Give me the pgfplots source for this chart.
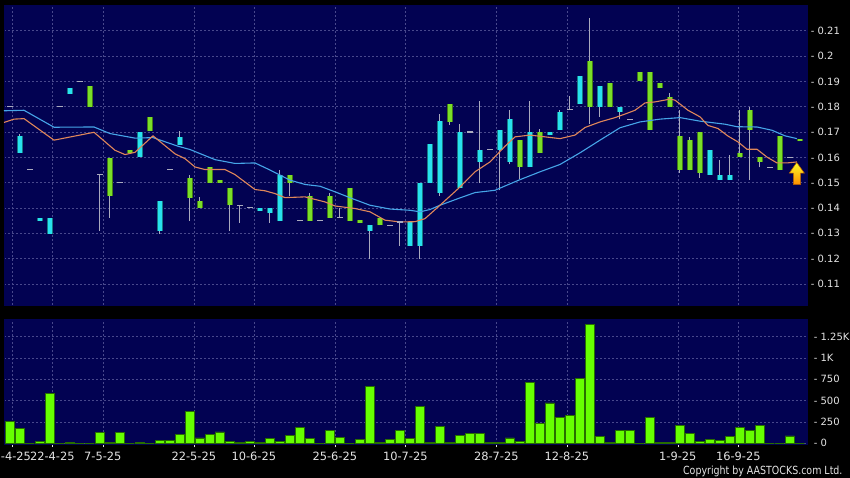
\documentclass[border=0pt]{standalone}
\usepackage{pgfplots}
\pgfplotsset{compat=1.18}
\usepackage{pgfplotstable}
\usepackage{fontspec}
\setmainfont{DejaVu Sans}
\newfontfamily\cond[FakeStretch=0.845]{DejaVu Sans}

\definecolor{panel}{RGB}{2,2,82}
\definecolor{gridc}{RGB}{72,72,140}
\definecolor{upgreen}{RGB}{122,222,40}
\definecolor{dncyan}{RGB}{40,225,240}
\definecolor{wick}{RGB}{170,170,190}
\definecolor{volgreen}{RGB}{102,255,0}
\definecolor{voledge}{RGB}{40,110,0}
\definecolor{maorange}{RGB}{224,135,90}
\definecolor{mablue}{RGB}{70,165,232}
\definecolor{labelc}{RGB}{228,228,228}

% candles: day, wick low, body low, body high, wick high
\pgfplotstableread{
x lo bl bh hi
8 0.180 0.180 0.188 0.188
10 0.1361 0.1449 0.1599 0.1599
12 0.1618 0.1618 0.1630 0.1630
14 0.1703 0.1703 0.176 0.176
18 0.1348 0.144 0.152 0.1532
19 0.1402 0.1402 0.1429 0.1443
20 0.150 0.150 0.156 0.156
21 0.150 0.150 0.1512 0.1512
22 0.1309 0.141 0.1481 0.1481
28 0.1448 0.150 0.1532 0.1532
30 0.1349 0.1349 0.1449 0.1461
32 0.1362 0.1362 0.1449 0.1461
34 0.1349 0.1349 0.1481 0.1481
35 0.1342 0.1342 0.1352 0.1352
37 0.1331 0.1331 0.1362 0.1362
44 0.1728 0.174 0.181 0.181
51 0.1514 0.1561 0.167 0.167
53 0.1619 0.1619 0.170 0.1713
58 0.1731 0.180 0.1979 0.215
60 0.180 0.180 0.1892 0.1892
63 0.190 0.190 0.1939 0.1939
64 0.171 0.171 0.1939 0.1939
65 0.1872 0.1872 0.1892 0.1892
66 0.180 0.180 0.184 0.1854
67 0.154 0.1552 0.1684 0.1786
68 0.1552 0.1552 0.167 0.1682
69 0.152 0.154 0.170 0.170
73 0.160 0.160 0.1619 0.1789
74 0.151 0.171 0.1789 0.180
75 0.156 0.1581 0.160 0.160
77 0.1552 0.1552 0.1684 0.1684
79 0.1663 0.1663 0.1672 0.1672
}\upcandles

\pgfplotstableread{
x lo bl bh hi
1 0.1619 0.1619 0.1684 0.1692
3 0.1350 0.1350 0.1361 0.1361
4 0.1299 0.1299 0.1362 0.1362
6 0.1852 0.1852 0.1872 0.1872
13 0.160 0.160 0.170 0.170
15 0.1299 0.1309 0.1429 0.1429
17 0.1649 0.1649 0.1682 0.1703
25 0.139 0.139 0.140 0.140
26 0.1342 0.138 0.140 0.140
27 0.1348 0.1348 0.1532 0.1552
36 0.120 0.1309 0.1331 0.1331
40 0.125 0.125 0.1346 0.1346
41 0.120 0.125 0.150 0.150
42 0.150 0.150 0.1651 0.1651
43 0.1448 0.146 0.1742 0.1771
45 0.1481 0.1481 0.170 0.1731
47 0.150 0.1581 0.1631 0.1822
49 0.147 0.1631 0.171 0.171
50 0.1572 0.1581 0.175 0.1789
52 0.1561 0.1561 0.170 0.1822
54 0.169 0.169 0.1702 0.1702
55 0.171 0.171 0.1781 0.1789
57 0.1809 0.1809 0.192 0.192
59 0.176 0.180 0.188 0.188
61 0.175 0.1781 0.180 0.180
70 0.1532 0.1532 0.1631 0.1631
71 0.1512 0.1512 0.1532 0.159
72 0.1512 0.1512 0.1532 0.161
}\downcandles

% open = close
\pgfplotstableread{
x lo c hi
0 0.180 0.180 0.180
2 0.1552 0.1552 0.1552
5 0.180 0.180 0.180
7 0.190 0.190 0.190
9 0.131 0.1532 0.1532
11 0.150 0.150 0.150
16 0.1552 0.1552 0.1552
23 0.1341 0.141 0.141
24 0.1402 0.1402 0.1402
29 0.135 0.135 0.135
31 0.135 0.135 0.135
33 0.1362 0.1362 0.140
38 0.1331 0.1331 0.1331
39 0.125 0.1345 0.1345
46 0.170 0.170 0.170
48 0.1631 0.1631 0.1631
56 0.1789 0.1789 0.1842
62 0.175 0.175 0.175
76 0.156 0.156 0.156
78 0.160 0.160 0.160
}\flatcandles

\pgfplotstableread{
x v
0 260
1 177
2 0
3 20
4 587
5 0
6 10
7 0
8 0
9 122
10 10
11 130
12 0
13 10
14 0
15 30
16 30
17 100
18 372
19 63
20 100
21 133
22 18
23 12
24 22
25 12
26 55
27 20
28 95
29 189
30 55
31 0
32 150
33 67
34 0
35 43
36 666
37 10
38 40
39 150
40 60
41 429
42 10
43 200
44 10
45 90
46 118
47 114
48 14
49 6
50 63
51 18
52 713
53 236
54 473
55 307
56 323
57 756
58 1394
59 83
60 6
61 150
62 150
63 0
64 307
65 14
66 14
67 205
68 118
69 18
70 40
71 35
72 78
73 189
74 154
75 209
76 0
77 0
78 86
79 0
}\volume

\pgfplotsset{
  chartpanel/.style={
    scale only axis, width=803.3pt,
    xmin=-0.58, xmax=79.75,
    axis background/.style={fill=panel},
    axis line style={draw=panel},
    xtick={0.25,4.25,9.3,18.4,24.4,32.5,39.55,48.65,55.7,66.8,72.85},
    yticklabel pos=right,
    ytick style={draw=none},
    grid=major,
    grid style={gridc, dash pattern=on 2pt off 2pt, line width=0.6pt},
    yticklabel style={font=\fontsize{10}{12}\selectfont, text=labelc},
  },
  % error bars only: the marks are empty text marks
  bars only/.style 2 args={only marks, mark=text, text mark={}, forget plot,
    error bars/.cd, y dir=plus, y explicit, error mark=none,
    error bar style={#1, line width=#2}},
}

\begin{document}
\begin{tikzpicture}
\useasboundingbox (0,0) rectangle (850pt,478pt);
\fill[black] (0,0) rectangle (850pt,478pt);

% price panel
\begin{axis}[chartpanel,
    at={(4pt,173pt)}, anchor=south west, height=299.3pt,
    ymin=0.1017, ymax=0.2199,
    xticklabels={}, xtick style={draw=none},
    ytick={0.11,0.12,0.13,0.14,0.15,0.16,0.17,0.18,0.19,0.2,0.21},
    yticklabels={- 0.11,- 0.12,- 0.13,- 0.14,- 0.15,- 0.16,- 0.17,- 0.18,- 0.19,- 0.2,- 0.21}]

  % wicks
  \addplot[bars only={wick}{1pt}] table[x=x, y=lo, y error expr=\thisrow{hi}-\thisrow{lo}] {\upcandles};
  \addplot[bars only={wick}{1pt}] table[x=x, y=lo, y error expr=\thisrow{hi}-\thisrow{lo}] {\downcandles};
  \addplot[bars only={wick}{1pt}] table[x=x, y=lo, y error expr=\thisrow{hi}-\thisrow{lo}] {\flatcandles};

  % bodies: darker rim, then fill
  \addplot[bars only={black!45!upgreen}{5.5pt}] table[x=x, y=bl, y error expr=\thisrow{bh}-\thisrow{bl}] {\upcandles};
  \addplot[bars only={black!45!dncyan}{5.5pt}] table[x=x, y=bl, y error expr=\thisrow{bh}-\thisrow{bl}] {\downcandles};
  \addplot[bars only={upgreen}{4.3pt}] table[x=x, y=bl, y error expr=\thisrow{bh}-\thisrow{bl}] {\upcandles};
  \addplot[bars only={dncyan}{4.3pt}] table[x=x, y=bl, y error expr=\thisrow{bh}-\thisrow{bl}] {\downcandles};
  \addplot[only marks, mark=-, mark size=3pt, mark options={draw=wick, line width=1.2pt}, forget plot]
    table[x=x, y=c] {\flatcandles};

  % 20-day average
  \addplot[mablue, line width=1.1pt] coordinates {
    (-0.58,0.1784) (1.42,0.1786) (4.42,0.1719) (8.42,0.1720) (10.02,0.1694)
    (12.52,0.1676) (14.32,0.1678) (16.82,0.1644) (18.02,0.1631) (20.52,0.1591)
    (22.52,0.1576) (24.52,0.1578) (26.02,0.1550) (27.02,0.1530) (28.02,0.1510)
    (29.52,0.1493) (31.02,0.1486) (32.52,0.1464) (34.52,0.1433) (36.02,0.1411)
    (38.02,0.1396) (40.02,0.1391) (41.02,0.1385) (42.02,0.1394) (43.02,0.1411)
    (45.02,0.1440) (46.52,0.1461) (48.52,0.1470) (49.52,0.1487) (51.02,0.1512)
    (53.02,0.1543) (55.02,0.1572) (57.02,0.1618) (59.02,0.1668) (61.02,0.1717)
    (63.02,0.1740) (65.02,0.1751) (67.02,0.1757) (69.02,0.1743) (71.52,0.1731)
    (72.72,0.1721) (74.72,0.1720) (76.22,0.1707) (77.52,0.1685) (78.72,0.1674)};
  % 10-day average
  \addplot[maorange, line width=1.1pt] coordinates {
    (-0.58,0.1738) (0.42,0.1751) (1.42,0.1753) (4.42,0.1668) (8.42,0.1699)
    (10.52,0.1628) (11.52,0.1611) (12.52,0.1620) (14.32,0.1685) (16.52,0.1614)
    (17.52,0.1595) (18.52,0.1562) (19.52,0.1552) (21.52,0.1552) (22.52,0.1532)
    (24.52,0.1473) (25.52,0.1468) (26.52,0.1457) (27.52,0.1441) (29.52,0.1444)
    (31.52,0.1424) (32.52,0.1408) (34.52,0.1398) (36.02,0.1385) (37.52,0.1352)
    (39.02,0.1345) (40.52,0.1346) (41.52,0.1358) (43.02,0.1411) (45.02,0.1483)
    (46.52,0.1543) (48.02,0.1582) (49.52,0.1644) (50.52,0.1681) (52.02,0.1688)
    (53.52,0.1681) (55.02,0.1674) (56.52,0.1688) (57.52,0.1718) (59.02,0.1740)
    (60.52,0.1757) (61.52,0.1771) (62.52,0.1786) (63.52,0.1815) (64.52,0.1819)
    (66.02,0.1830) (66.52,0.1826) (67.82,0.1786) (69.02,0.1760) (69.82,0.1726)
    (70.82,0.1714) (71.82,0.1684) (72.82,0.1661) (73.72,0.1632) (74.72,0.1632)
    (75.72,0.1601) (76.72,0.1578) (77.72,0.1578) (78.72,0.1582)};

  % last-price arrow
  \path[draw=orange!70!black, line width=0.5pt, top color=yellow!85!white, bottom color=orange!90!yellow]
    (axis cs:78.69,0.1580) -- (axis cs:79.45,0.1538) -- (axis cs:79.09,0.1538)
    -- (axis cs:79.09,0.1492) -- (axis cs:78.35,0.1492) -- (axis cs:78.35,0.1538)
    -- (axis cs:77.95,0.1538) -- cycle;
\end{axis}

% volume panel
\begin{axis}[chartpanel,
    at={(4pt,33.7pt)}, anchor=south west, height=125.3pt,
    ymin=-12, ymax=1457,
    ytick={0,250,500,750,1000,1250},
    yticklabels={- 0,- 250,- 500,- 750,- 1K,- 1.25K},
    xticklabels={8-4-25,22-4-25,7-5-25,22-5-25,10-6-25,25-6-25,10-7-25,28-7-25,12-8-25,1-9-25,16-9-25},
    xtick pos=bottom, tick align=outside, major tick length=3pt,
    xtick style={draw=labelc, line width=0.6pt},
    xticklabel style={font=\fontsize{11.4}{13}\selectfont, text=labelc, yshift=-1.5pt}]
  \addplot[ybar, bar width=9.2pt, fill=volgreen, draw=voledge, line width=0.8pt]
    table[x=x, y=v] {\volume};
\end{axis}

\node[anchor=base east, text=labelc, font=\cond\fontsize{11.2}{13}\selectfont]
  at (846pt,3pt) {Copyright by AASTOCKS.com Ltd.};
\end{tikzpicture}
\end{document}
